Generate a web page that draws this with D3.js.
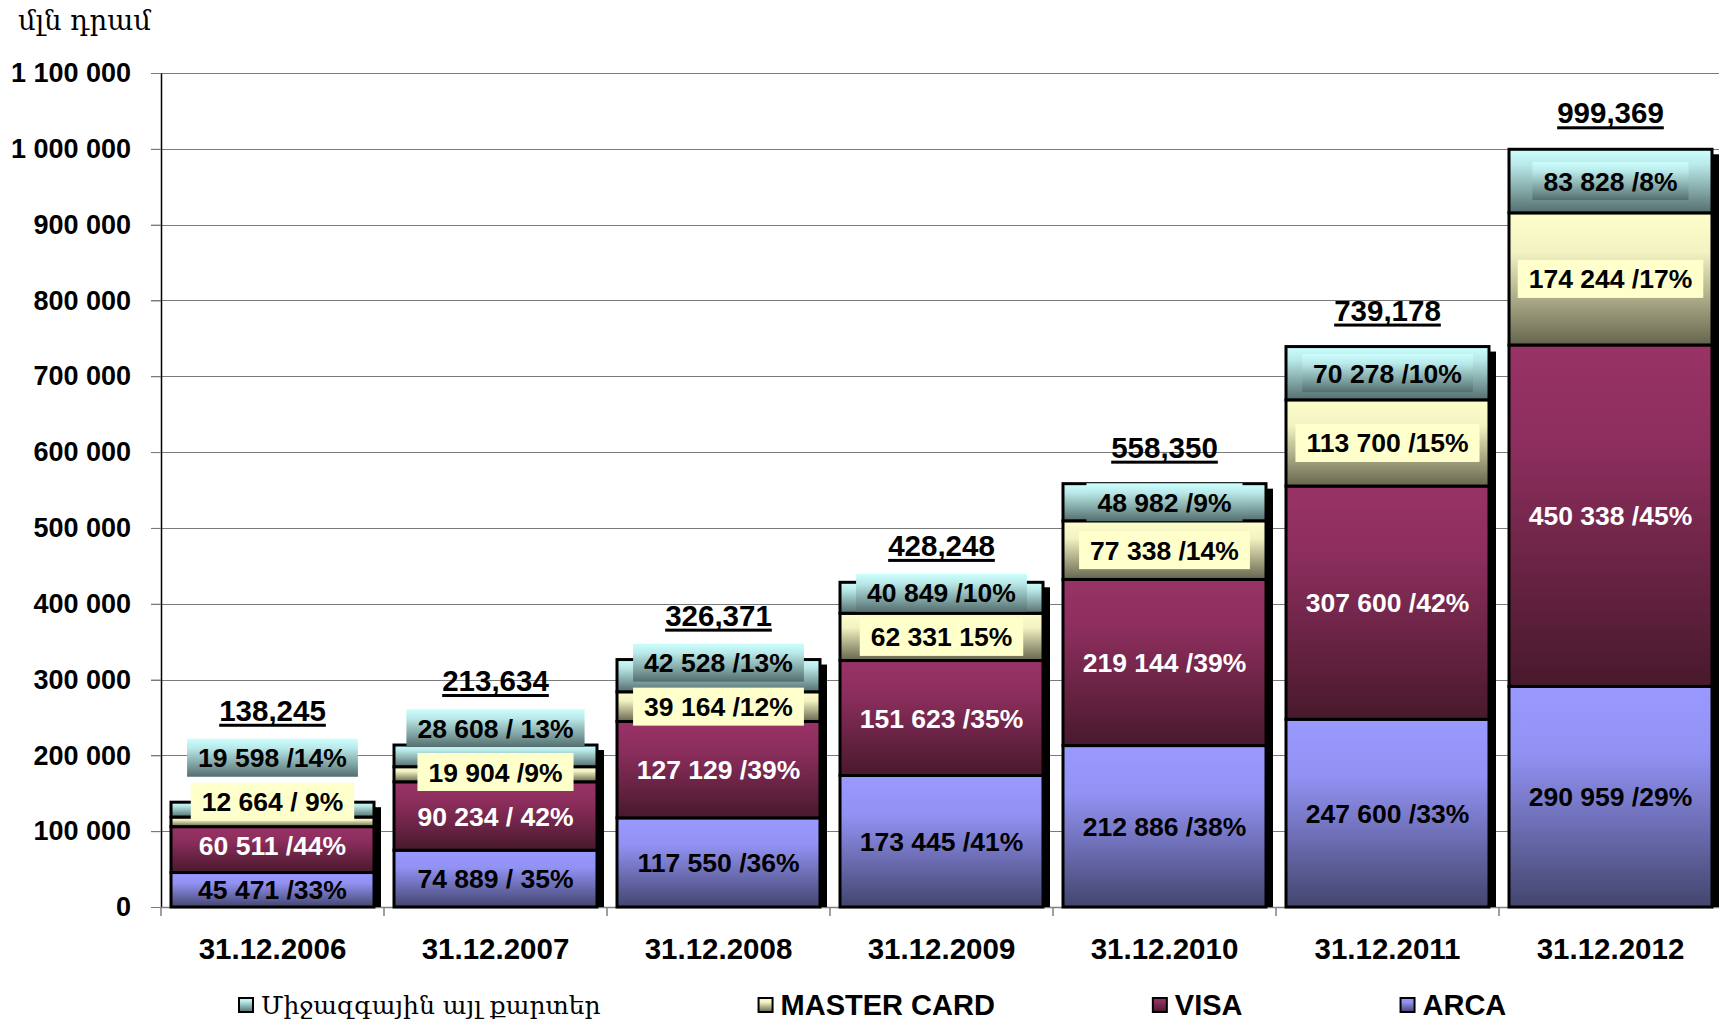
<!DOCTYPE html>
<html>
<head>
<meta charset="utf-8">
<script src="https://cdn.jsdelivr.net/npm/d3@7"></script>
<style>
  body { margin: 0; background: #fff; }
  svg { display: block; }
  text { font-family: "Liberation Sans", Arial, sans-serif; font-weight: bold; fill: #000; }
  text.arm { font-family: "DejaVu Serif", serif; font-weight: normal; }
</style>
</head>
<body>
<svg class="chart"></svg>
<script>
// Data
const dates = ['31.12.2006', '31.12.2007', '31.12.2008', '31.12.2009', '31.12.2010', '31.12.2011', '31.12.2012'];
const arca = [45471, 74889, 117550, 173445, 212886, 247600, 290959];
const visa = [60511, 90234, 127129, 151623, 219144, 307600, 450338];
const master = [12664, 19904, 39164, 62331, 77338, 113700, 174244];
const other = [19598, 28608, 42528, 40849, 48982, 70278, 83828];
const totals = ['138,245', '213,634', '326,371', '428,248', '558,350', '739,178', '999,369'];

// label texts as printed on the chart
const arcaLabels = ['45 471 /33%', '74 889 / 35%', '117 550 /36%', '173 445 /41%', '212 886 /38%', '247 600 /33%', '290 959 /29%'];
const visaLabels = ['60 511 /44%', '90 234 / 42%', '127 129 /39%', '151 623 /35%', '219 144 /39%', '307 600 /42%', '450 338 /45%'];
const masterLabels = ['12 664 / 9%', '19 904 /9%', '39 164 /12%', '62 331 15%', '77 338 /14%', '113 700 /15%', '174 244 /17%'];
const otherLabels = ['19 598 /14%', '28 608 / 13%', '42 528 /13%', '40 849 /10%', '48 982 /9%', '70 278 /10%', '83 828 /8%'];

const yTicks = [0, 100000, 200000, 300000, 400000, 500000, 600000, 700000, 800000, 900000, 1000000, 1100000];
const unitLabel = 'մլն  դրամ';

// series, bottom to top
const series = [
  { key: 'arca', name: 'ARCA', values: arca, labels: arcaLabels, text: '#000', box: null,
    stops: [[0, '#9999ff'], [0.3, '#9292f4'], [1, '#43456d']] },
  { key: 'visa', name: 'VISA', values: visa, labels: visaLabels, text: '#fff', box: null,
    stops: [[0, '#993366'], [0.3, '#8c2e5d'], [1, '#48192c']] },
  { key: 'master', name: 'MASTER CARD', values: master, labels: masterLabels, text: '#000', box: '#ffffcc',
    stops: [[0, '#ffffcc'], [0.3, '#f2f2c2'], [1, '#65654e']] },
  { key: 'other', name: 'Միջազգային այլ քարտեր', values: other, labels: otherLabels, text: '#000', box: 'url(#g-other)',
    stops: [[0, '#ccffff'], [0.25, '#b9e8e8'], [1, '#546e6e']] }
];
const legendOrder = ['other', 'master', 'visa', 'arca'];

const width = 1719;
const height = 1026;

const svg = d3.select('.chart')
  .attr('width', width)
  .attr('height', height);

// Scales
const x = d3.scaleBand().domain(dates).range([161, 1722]);
const y = d3.scaleLinear().domain([0, 1100000]).range([907, 73]);

// Gradients
const defs = svg.append('defs');
series.forEach(s => {
  defs.append('linearGradient')
    .attr('id', 'g-' + s.key)
    .attr('x1', 0).attr('y1', 0).attr('x2', 0).attr('y2', 1)
    .selectAll('stop')
    .data(s.stops)
    .join('stop')
    .attr('offset', d => d[0])
    .attr('stop-color', d => d[1]);
});

// Grid lines
svg.append('g')
  .selectAll('line')
  .data(yTicks.slice(1))
  .join('line')
  .attr('x1', 151).attr('x2', width)
  .attr('y1', d => Math.round(y(d)) + 0.5)
  .attr('y2', d => Math.round(y(d)) + 0.5)
  .attr('stroke', '#7a7a7a')
  .attr('stroke-width', 1.2);

// Y Axis
const yAxis = svg.append('g')
  .attr('transform', 'translate(161,0)')
  .call(d3.axisLeft(y)
    .tickValues(yTicks)
    .tickSize(10)
    .tickSizeOuter(0)
    .tickPadding(20)
    .tickFormat(d => d3.format(',')(d).replace(/,/g, ' ')));
yAxis.select('.domain').attr('stroke', '#000').attr('stroke-width', 1.5);
yAxis.selectAll('.tick line').attr('stroke', '#7a7a7a');
yAxis.selectAll('.tick text')
  .attr('font-size', 27)
  .attr('font-family', '"Liberation Sans", Arial, sans-serif')
  .attr('font-weight', 'bold')
  .attr('fill', '#000');

// X Axis (baseline + category separators)
svg.append('line')
  .attr('x1', 161).attr('x2', width)
  .attr('y1', y(0) + 0.5).attr('y2', y(0) + 0.5)
  .attr('stroke', '#808080').attr('stroke-width', 1.5);
svg.append('g')
  .selectAll('line')
  .data(dates.concat(['end']))
  .join('line')
  .attr('x1', (d, i) => i < dates.length ? x(d) : x.range()[1])
  .attr('x2', (d, i) => i < dates.length ? x(d) : x.range()[1])
  .attr('y1', y(0)).attr('y2', y(0) + 9)
  .attr('stroke', '#808080').attr('stroke-width', 1.5);

const xAxis = svg.append('g')
  .attr('transform', `translate(0,${y(0)})`)
  .call(d3.axisBottom(x).tickSize(0).tickPadding(31));
xAxis.select('.domain').remove();
xAxis.selectAll('.tick text')
  .attr('font-size', 29.5)
  .attr('font-family', '"Liberation Sans", Arial, sans-serif')
  .attr('font-weight', 'bold')
  .attr('fill', '#000');

// Stack
const rows = dates.map((d, i) => {
  const r = { date: d };
  series.forEach(s => { r[s.key] = s.values[i]; });
  return r;
});
const stacked = d3.stack().keys(series.map(s => s.key))(rows);
const barInset = 10;
const barWidth = x.bandwidth() - 2 * barInset;

// Shadows
svg.append('g')
  .selectAll('rect')
  .data(rows)
  .join('rect')
  .attr('x', d => x(d.date) + barInset + 7)
  .attr('y', (d, i) => y(stacked[stacked.length - 1][i][1]) + 5)
  .attr('width', barWidth)
  .attr('height', (d, i) => y(0) - y(stacked[stacked.length - 1][i][1]) - 5)
  .attr('fill', '#000');

// Bars
svg.append('g')
  .selectAll('g')
  .data(stacked)
  .join('g')
  .attr('fill', d => 'url(#g-' + d.key + ')')
  .selectAll('rect')
  .data(d => d)
  .join('rect')
  .attr('x', d => x(d.data.date) + barInset)
  .attr('y', d => y(d[1]))
  .attr('width', barWidth)
  .attr('height', d => y(d[0]) - y(d[1]))
  .attr('stroke', '#000')
  .attr('stroke-width', 3);

// Segment labels (pushed up when they would overlap)
const labelLayer = svg.append('g');
const minGap = 44;
const boxH = 38;
const topBox = [];
dates.forEach((date, i) => {
  let prevY = Infinity;
  let top = Infinity;
  series.forEach((s, k) => {
    const seg = stacked[k][i];
    let cy = y((seg[0] + seg[1]) / 2);
    if (prevY - cy < minGap) cy = prevY - minGap;
    prevY = cy;
    const cx = x(date) + x.bandwidth() / 2;
    const g = labelLayer.append('g');
    const t = g.append('text')
      .attr('x', cx)
      .attr('y', cy)
      .attr('dy', '0.36em')
      .attr('text-anchor', 'middle')
      .attr('font-size', 26.5)
      .style('fill', s.text)
      .text(s.labels[i]);
    if (s.box) {
      const w = t.node().getComputedTextLength() + 22;
      g.insert('rect', 'text')
        .attr('x', cx - w / 2)
        .attr('y', cy - boxH / 2)
        .attr('width', w)
        .attr('height', boxH)
        .attr('fill', s.box);
    }
    top = Math.min(top, cy - boxH / 2);
  });
  topBox.push(top);
});

// Totals
const totalLayer = svg.append('g');
dates.forEach((date, i) => {
  const barTop = y(stacked[stacked.length - 1][i][1]);
  const base = Math.min(barTop - 26, topBox[i] - 18);
  const cx = x(date) + x.bandwidth() / 2;
  const t = totalLayer.append('text')
    .attr('x', cx)
    .attr('y', base)
    .attr('text-anchor', 'middle')
    .attr('font-size', 29.5)
    .text(totals[i]);
  const w = t.node().getComputedTextLength();
  totalLayer.append('rect')
    .attr('x', cx - w / 2)
    .attr('y', base + 3)
    .attr('width', w)
    .attr('height', 3)
    .attr('fill', '#000');
});

// Unit label
svg.append('text')
  .attr('class', 'arm')
  .attr('x', 18)
  .attr('y', 30)
  .attr('font-size', 27.5)
  .text(unitLabel);

// Legend
const legend = svg.append('g');
let lx = 239;
legendOrder.forEach(key => {
  const s = series.find(d => d.key === key);
  const item = legend.append('g');
  item.append('rect')
    .attr('x', lx).attr('y', 998)
    .attr('width', 14).attr('height', 14)
    .attr('fill', 'url(#g-' + key + ')')
    .attr('stroke', '#000')
    .attr('stroke-width', 2);
  const t = item.append('text')
    .attr('class', key === 'other' ? 'arm' : null)
    .attr('x', lx + 22)
    .attr('y', 1005)
    .attr('dy', '0.36em')
    .attr('font-size', key === 'other' ? 25 : 29)
    .text(s.name);
  lx += 22 + t.node().getComputedTextLength() + 158;
});
</script>
</body>
</html>
